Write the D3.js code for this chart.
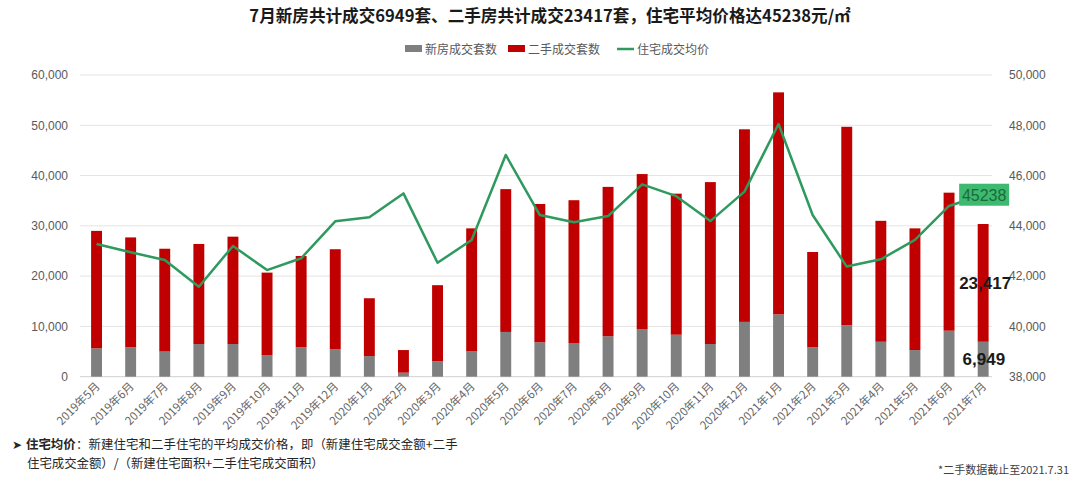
<!DOCTYPE html>
<html><head><meta charset="utf-8">
<script src="https://cdn.jsdelivr.net/npm/d3@7/dist/d3.min.js"></script>
<style>
body{margin:0;background:#fff;}
svg{display:block;font-family:"Noto Sans CJK SC","Noto Sans",sans-serif;}
</style></head>
<body><svg id="c" width="1079" height="484"></svg>
<script>
const months = ["2019年5月","2019年6月","2019年7月","2019年8月","2019年9月","2019年10月","2019年11月","2019年12月","2020年1月","2020年2月","2020年3月","2020年4月","2020年5月","2020年6月","2020年7月","2020年8月","2020年9月","2020年10月","2020年11月","2020年12月","2021年1月","2021年2月","2021年3月","2021年4月","2021年5月","2021年6月","2021年7月"];
const newHomes = [5650,5850,5000,6500,6500,4300,5850,5500,4100,800,3100,5100,8900,6850,6700,8050,9400,8350,6500,10900,12400,5850,10250,6950,5300,9150,6949];
const resale = [23350,21850,20450,19900,21350,16400,18150,19850,11500,4500,15100,24400,28400,27500,28400,29700,30900,28050,32200,38300,44150,18950,39450,24050,24200,27450,23417];
const avgPrice = [43280,42950,42640,41580,43200,42240,42710,44180,44340,45290,42530,43440,46820,44430,44140,44390,45650,45180,44190,45360,48050,44430,42380,42670,43440,44790,45238];
const leftTicks = [0,10000,20000,30000,40000,50000,60000];
const rightTicks = [38000,40000,42000,44000,46000,48000,50000];
const seriesNames = ["新房成交套数","二手成交套数","住宅成交均价"];
const titleText = "7月新房共计成交6949套、二手房共计成交23417套，住宅平均价格达45238元/㎡";

const svg = d3.select("#c");
const plotTop = 75, plotBottom = 376.7, plotLeft = 80, plotRight = 992;

const x = d3.scaleBand().domain(months).range([79.5, 1000.2]).paddingInner(0.68).paddingOuter(0.34);
const yL = d3.scaleLinear().domain([0,60000]).range([plotBottom, plotTop]);
const yR = d3.scaleLinear().domain([38000,50000]).range([plotBottom, plotTop]);

// gridlines
svg.append("g").selectAll("line").data(leftTicks).join("line")
  .attr("x1", plotLeft).attr("x2", plotRight)
  .attr("y1", d=>yL(d)).attr("y2", d=>yL(d))
  .attr("stroke", d=> d===0 ? "#d0d0d0" : "#e4e4e4").attr("stroke-width",1);

// left axis
const axL = d3.axisLeft(yL).tickValues(leftTicks).tickFormat(d3.format(",")).tickSize(0).tickPadding(0);
const gL = svg.append("g").attr("transform","translate(68,0)").call(axL);
gL.select(".domain").remove();
gL.selectAll("text").attr("fill","#595959").style("font-size","12px").style("font-family","Liberation Sans, Arial, sans-serif");

// right axis
const axR = d3.axisRight(yR).tickValues(rightTicks).tickFormat(d3.format(",")).tickSize(0).tickPadding(0);
const gR = svg.append("g").attr("transform","translate(1009,0)").call(axR);
gR.select(".domain").remove();
gR.selectAll("text").attr("fill","#595959").style("font-size","12px").style("font-family","Liberation Sans, Arial, sans-serif");

// bars
const data = months.map((m,i)=>({m, n:newHomes[i], r:resale[i], p:avgPrice[i]}));
svg.append("g").selectAll("rect").data(data).join("rect")
  .attr("x", d=>x(d.m)).attr("width", x.bandwidth())
  .attr("y", d=>yL(d.n)).attr("height", d=>yL(0)-yL(d.n))
  .attr("fill","#7f7f7f");
svg.append("g").selectAll("rect").data(data).join("rect")
  .attr("x", d=>x(d.m)).attr("width", x.bandwidth())
  .attr("y", d=>yL(d.n+d.r)).attr("height", d=>yL(d.n)-yL(d.n+d.r))
  .attr("fill","#c00000");

// line
const line = d3.line().x(d=>x(d.m)+x.bandwidth()/2).y(d=>yR(d.p));
svg.append("path").datum(data).attr("d", line)
  .attr("fill","none").attr("stroke","#2e9a5e").attr("stroke-width",2.5).attr("stroke-linejoin","round");

// x labels
svg.append("g").selectAll("text").data(months).join("text")
  .attr("transform", d=>`translate(${x(d)+x.bandwidth()/2+4},387) rotate(-45)`)
  .attr("text-anchor","end").attr("fill","#666666")
  .style("font-size","11.5px").text(d=>d);

// annotations
const last = data[data.length-1];
const lx = x(last.m)+x.bandwidth()/2;
const fmt = d3.format(",");
svg.append("text").attr("x", lx+28).attr("y", yL(last.n+last.r/2)+6)
  .attr("text-anchor","end").attr("fill","#1a1a1a")
  .style("font-size","17px").style("font-family","Liberation Sans, Arial, sans-serif").style("font-weight","bold")
  .text(fmt(last.r));
svg.append("text").attr("x", lx+22).attr("y", yL(last.n/2)+6)
  .attr("text-anchor","end").attr("fill","#1a1a1a")
  .style("font-size","17px").style("font-family","Liberation Sans, Arial, sans-serif").style("font-weight","bold")
  .text(fmt(last.n));
const py = yR(last.p);
svg.append("rect").attr("x", lx-24).attr("y", py-11).attr("width", 50).attr("height", 22).attr("fill","#3dba6f");
svg.append("text").attr("x", lx+1).attr("y", py+6).attr("text-anchor","middle").attr("fill","#1b6b38")
  .style("font-size","16px").style("font-family","Liberation Sans, Arial, sans-serif")
  .text(String(last.p));

// title
svg.append("text").attr("x", 550).attr("y", 22).attr("text-anchor","middle")
  .attr("fill","#1a1a1a").style("font-size","16.6px").style("font-weight","bold").text(titleText);

// legend
const lg = svg.append("g").attr("transform","translate(405,49)");
const legendItems = [
  {name: seriesNames[0], type:"rect", color:"#7f7f7f", x:0},
  {name: seriesNames[1], type:"rect", color:"#c00000", x:103},
  {name: seriesNames[2], type:"line", color:"#2e9a5e", x:212}
];
legendItems.forEach(it=>{
  const g = lg.append("g").attr("transform",`translate(${it.x},0)`);
  if(it.type==="rect") g.append("rect").attr("x",0).attr("y",-4).attr("width",17).attr("height",7).attr("fill",it.color);
  else g.append("line").attr("x1",0).attr("x2",17).attr("y1",0).attr("y2",0).attr("stroke",it.color).attr("stroke-width",2.5);
  g.append("text").attr("x",20).attr("y",4.5).attr("fill","#595959").style("font-size","12px").text(it.name);
});

// notes
const note = svg.append("g").attr("fill","#262626").style("font-size","12.4px");
const a = note.append("text").attr("x",12).attr("y",449).text("➤");
let cx = 12 + a.node().getComputedTextLength() + 4;
const b = note.append("text").attr("x",cx).attr("y",449).style("font-weight","bold").text("住宅均价");
cx += b.node().getComputedTextLength() + 0.5;
note.append("text").attr("x",cx).attr("y",449).style("letter-spacing","0.1px").text("：新建住宅和二手住宅的平均成交价格，即（新建住宅成交金额+二手");
note.append("text").attr("x",27).attr("y",468).text("住宅成交金额）/（新建住宅面积+二手住宅成交面积）");
svg.append("text").attr("x",1069).attr("y",474).attr("text-anchor","end").attr("fill","#404040")
  .style("font-size","11px").text("*二手数据截止至2021.7.31");
</script></body></html>
